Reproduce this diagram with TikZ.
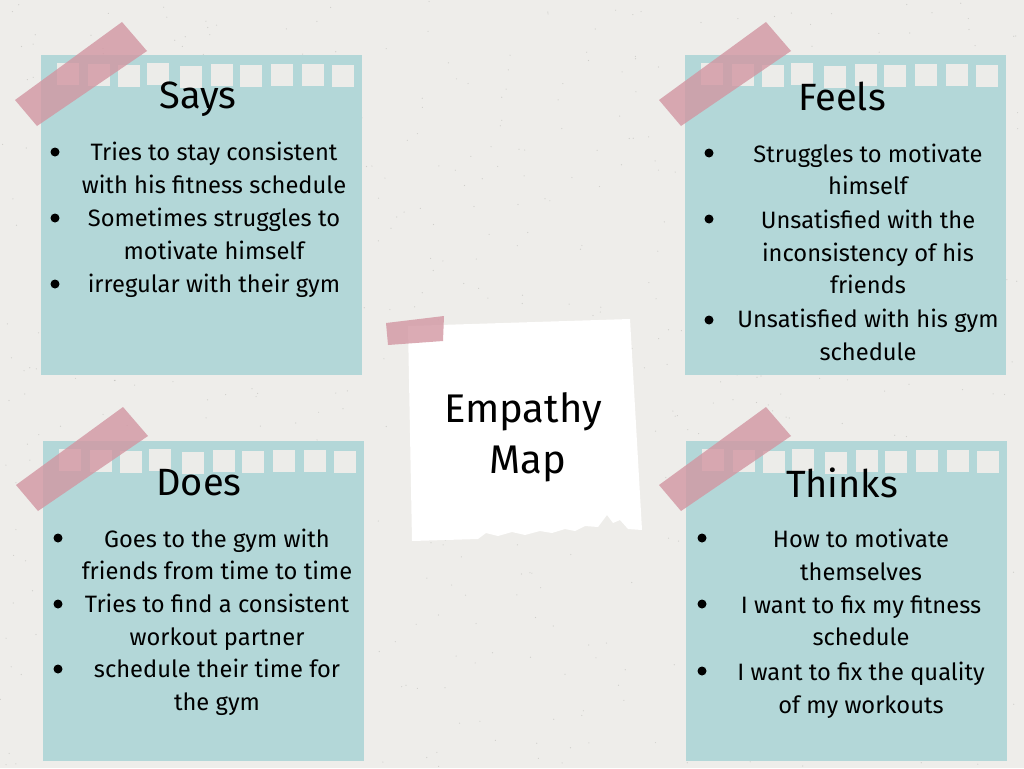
\documentclass[tikz,border=0pt]{standalone}
\usepackage{fontspec}
\setmainfont{Fira Sans}
\definecolor{bgc}{RGB}{238,237,234}
\definecolor{notec}{RGB}{179,215,216}
\definecolor{holec}{RGB}{236,236,233}
\definecolor{tapec}{RGB}{210,150,162}
\definecolor{speck}{RGB}{150,150,145}
\begin{document}
\begin{tikzpicture}[x=1pt,y=-1pt,
  note/.style={fill=notec},
  hole/.style={fill=holec},
  tape/.style={fill=tapec,opacity=0.8},
  title/.style={anchor=base,font=\fontsize{38}{44}\selectfont},
  line/.style={anchor=base,font=\fontsize{23.7}{33}\selectfont},
  dot/.style={fill=black,circle,inner sep=0pt,minimum size=9pt}]
\useasboundingbox (0,0) rectangle (1024,768);
\fill[bgc] (0,0) rectangle (1024,768);
\pgfmathsetseed{11}
\foreach \k in {1,...,700}{\fill[speck,opacity=0.35] ({rnd*1024},{rnd*768}) circle (0.6);}

% ---------- four notes ----------
\foreach \nx/\ny/\nn in {41/55/says,685/55/feels,43/441/does,686/441/thinks}{
  \fill[note] (\nx,\ny) rectangle ++(321,320);
  \foreach \o/\d in {16/8,47/9,77/10,106/8,139/11,170/9,199/10,230/9,261/9,291/10}{
    \fill[hole] (\nx+\o,\ny+\d) rectangle ++(22,22);
  }
}
% tapes
\foreach \tx/\ty in {0/0,644/0,1/385,644/385}{
  \fill[tape] (15+\tx,100+\ty) -- (37+\tx,126+\ty) -- (147+\tx,51+\ty) -- (122+\tx,22+\ty) -- cycle;
}

% ---------- titles ----------
\node[title] (tsays) at (198,108) {Says};
\node[title] (tfeels) at (842,110) {Feels};
\node[title] (tdoes) at (199,495) {Does};
\node[title] (tthinks) at (842,497) {Thinks};

% ---------- Says ----------
\foreach \y/\t [count=\i] in {160/Tries to stay consistent,193/with his fitness schedule,226/Sometimes struggles to,259/motivate himself,292/irregular with their gym}
  {\node[line] (sl\i) at (214,\y) {\t};}
\foreach \y [count=\i] in {152,218,284}{\node[dot] (sb\i) at (55,\y) {};}

% ---------- Feels ----------
\foreach \y/\t [count=\i] in {162/Struggles to motivate,194/himself,228/Unsatisfied with the,261/inconsistency of his,293/friends,327/Unsatisfied with his gym,360/schedule}
  {\node[line] (fl\i) at (868,\y) {\t};}
\foreach \y [count=\i] in {153,219,320}{\node[dot] (fb\i) at (709,\y) {};}

% ---------- Does ----------
\foreach \y/\t [count=\i] in {547/Goes to the gym with,579/friends from time to time,612/Tries to find a consistent,645/workout partner,677/schedule their time for,710/the gym}
  {\node[line] (dl\i) at (217,\y) {\t};}
\foreach \y [count=\i] in {538,604,669}{\node[dot] (db\i) at (58,\y) {};}

% ---------- Thinks ----------
\foreach \y/\t [count=\i] in {547/How to motivate,580/themselves,613/I want to fix my fitness,645/schedule,680/I want to fix the quality,713/of my workouts}
  {\node[line] (kl\i) at (861,\y) {\t};}
\foreach \y [count=\i] in {538,604,671}{\node[dot] (kb\i) at (702,\y) {};}

% ---------- center note ----------
\fill[white] (408,326) -- (630,319) -- (642,530)
  -- (628,529) -- (620,520) -- (613,523) -- (607,515) -- (598,527) -- (585,526) -- (575,531) -- (565,529)
  -- (552,533) -- (540,531) -- (525,535) -- (512,532) -- (498,536) -- (486,533) -- (478,539)
  -- (412,541) -- cycle;
\fill[tape] (386,323) -- (444,316) -- (443,341) -- (388,345) -- cycle;
\node[anchor=base,font=\fontsize{40}{46}\selectfont] (emp) at (523,422) {Empathy};
\node[anchor=base,font=\fontsize{40}{46}\selectfont] (map) at (528,473) {Map};
\end{tikzpicture}
\end{document}
